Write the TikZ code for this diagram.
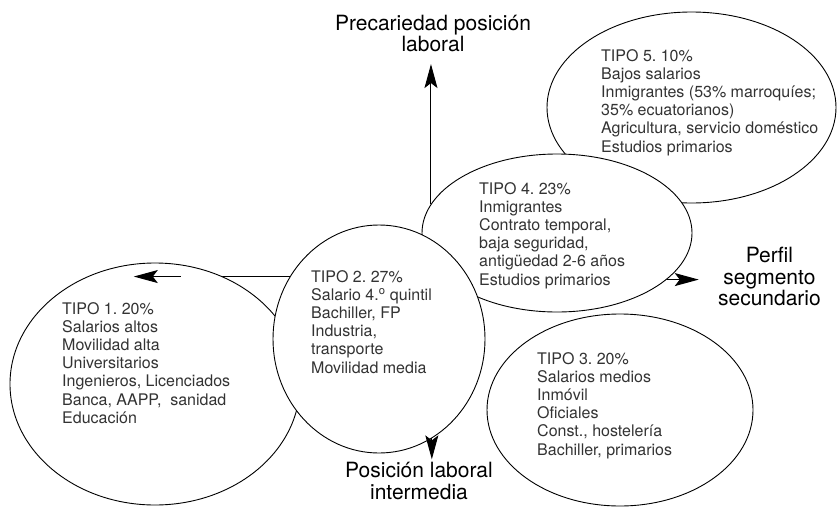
\documentclass[tikz,border=0pt]{standalone}
\usepackage{fontspec}
\setmainfont{TeX Gyre Heros}
\usepackage{tikz}
\usetikzlibrary{shapes.geometric,arrows.meta}
\frenchspacing

\begin{document}
\begin{tikzpicture}[x=1pt,y=-1pt]

\pgfdeclarelayer{background}
\pgfdeclarelayer{foreground}
\pgfsetlayers{background,main,foreground}

\tikzstyle{tipo} = [draw, ellipse, line width=0.9pt, fill=white, inner sep=0pt]
\tikzstyle{textblock} = [align=left, anchor=north west, inner sep=0pt, text=black!80, font=\fontsize{16}{18.2}\selectfont]
\tikzstyle{header} = [align=center, anchor=north, inner sep=0pt, font=\fontsize{21}{21.5}\selectfont]
\tikzstyle{axis arrow} = [-{Stealth[length=24pt,width=13pt,inset=5pt]}, line width=1pt]

\useasboundingbox (0,0) rectangle (837,506);

\draw node (anchor) at (0,0) {};

%Ellipses, back to front

\path (anchor)+(691.5,107.5) node (t5) [tipo, minimum width=289pt, minimum height=191pt] {};
\path (anchor)+(557,233) node (t4) [tipo, minimum width=270pt, minimum height=158pt] {};
\path (anchor)+(155,384) node (t1) [tipo, minimum width=290pt, minimum height=242pt] {};
\path (anchor)+(379,339) node (t2) [tipo, minimum width=212pt, minimum height=228pt] {};
\path (anchor)+(620,410) node (t3) [tipo, minimum width=266pt, minimum height=192pt] {};

%TIPO 1: left

\path (t1)+(-93,-82) node (t1_text) [textblock] {TIPO 1. 20\%\\
	Salarios altos\\
	Movilidad alta\\
	Universitarios\\
	Ingenieros, Licenciados\\
	Banca, AAPP,\ \ sanidad\\
	Educación};

%TIPO 2: middle

\path (t2)+(-68,-69) node (t2_text) [textblock] {TIPO 2. 27\%\\
	Salario 4.\textsuperscript{o} quintil\\
	Bachiller, FP\\
	Industria,\\
	transporte\\
	Movilidad media};

%TIPO 3: bottom right

\path (t3)+(-83,-58) node (t3_text) [textblock] {TIPO 3. 20\%\\
	Salarios medios\\
	Inmóvil\\
	Oficiales\\
	Const., hostelería\\
	Bachiller, primarios};

%TIPO 4: centre right

\path (t4)+(-78,-51) node (t4_text) [textblock] {TIPO 4. 23\%\\
	Inmigrantes\\
	Contrato temporal,\\
	baja seguridad,\\
	antigüedad 2-6 años\\
	Estudios primarios};

%TIPO 5: top right

\path (t5)+(-90.5,-58.5) node (t5_text) [textblock] {TIPO 5. 10\%\\
	Bajos salarios\\
	Inmigrantes (53\% marroquíes;\\
	35\% ecuatorianos)\\
	Agricultura, servicio doméstico\\
	Estudios primarios};

%Axis labels

\path (t4.north)+(-124,-139) node (prec_header) [header] {Precariedad posición\\laboral};
\path (t4.east)+(77,14) node (perfil_header) [header] {Perfil\\segmento\\secundario};
\path (t2.south)+(40,9) node (pos_header) [header] {Posición laboral\\intermedia};

%Arrows

\path (t4.167.5) coordinate (arrow_1l);
\path (arrow_1l |- prec_header.south)+(0,12) coordinate (arrow_1r);

\draw [axis arrow] (arrow_1l) -- (arrow_1r);

\path (t2.145.9) coordinate (arrow_2l);
\path (arrow_2l)+(-156,0) coordinate (arrow_2r);
\path (arrow_2r)+(47,0) coordinate (arrow_2m);

\begin{pgfonlayer}{background}
\draw [line width=1pt] (arrow_2l) -- (arrow_2r);
\end{pgfonlayer}
\draw [axis arrow] (arrow_2m) -- (arrow_2r);

\path (t2.298.9) coordinate (arrow_3l);
\path (arrow_3l)+(0,21) coordinate (arrow_3r);

\draw [axis arrow] (arrow_3l) -- (arrow_3r);

\path (t4.337.9) coordinate (arrow_4l);
\path (arrow_4l)+(32,0) coordinate (arrow_4r);

\draw [axis arrow] (arrow_4l) -- (arrow_4r);

\end{tikzpicture}
\end{document}
